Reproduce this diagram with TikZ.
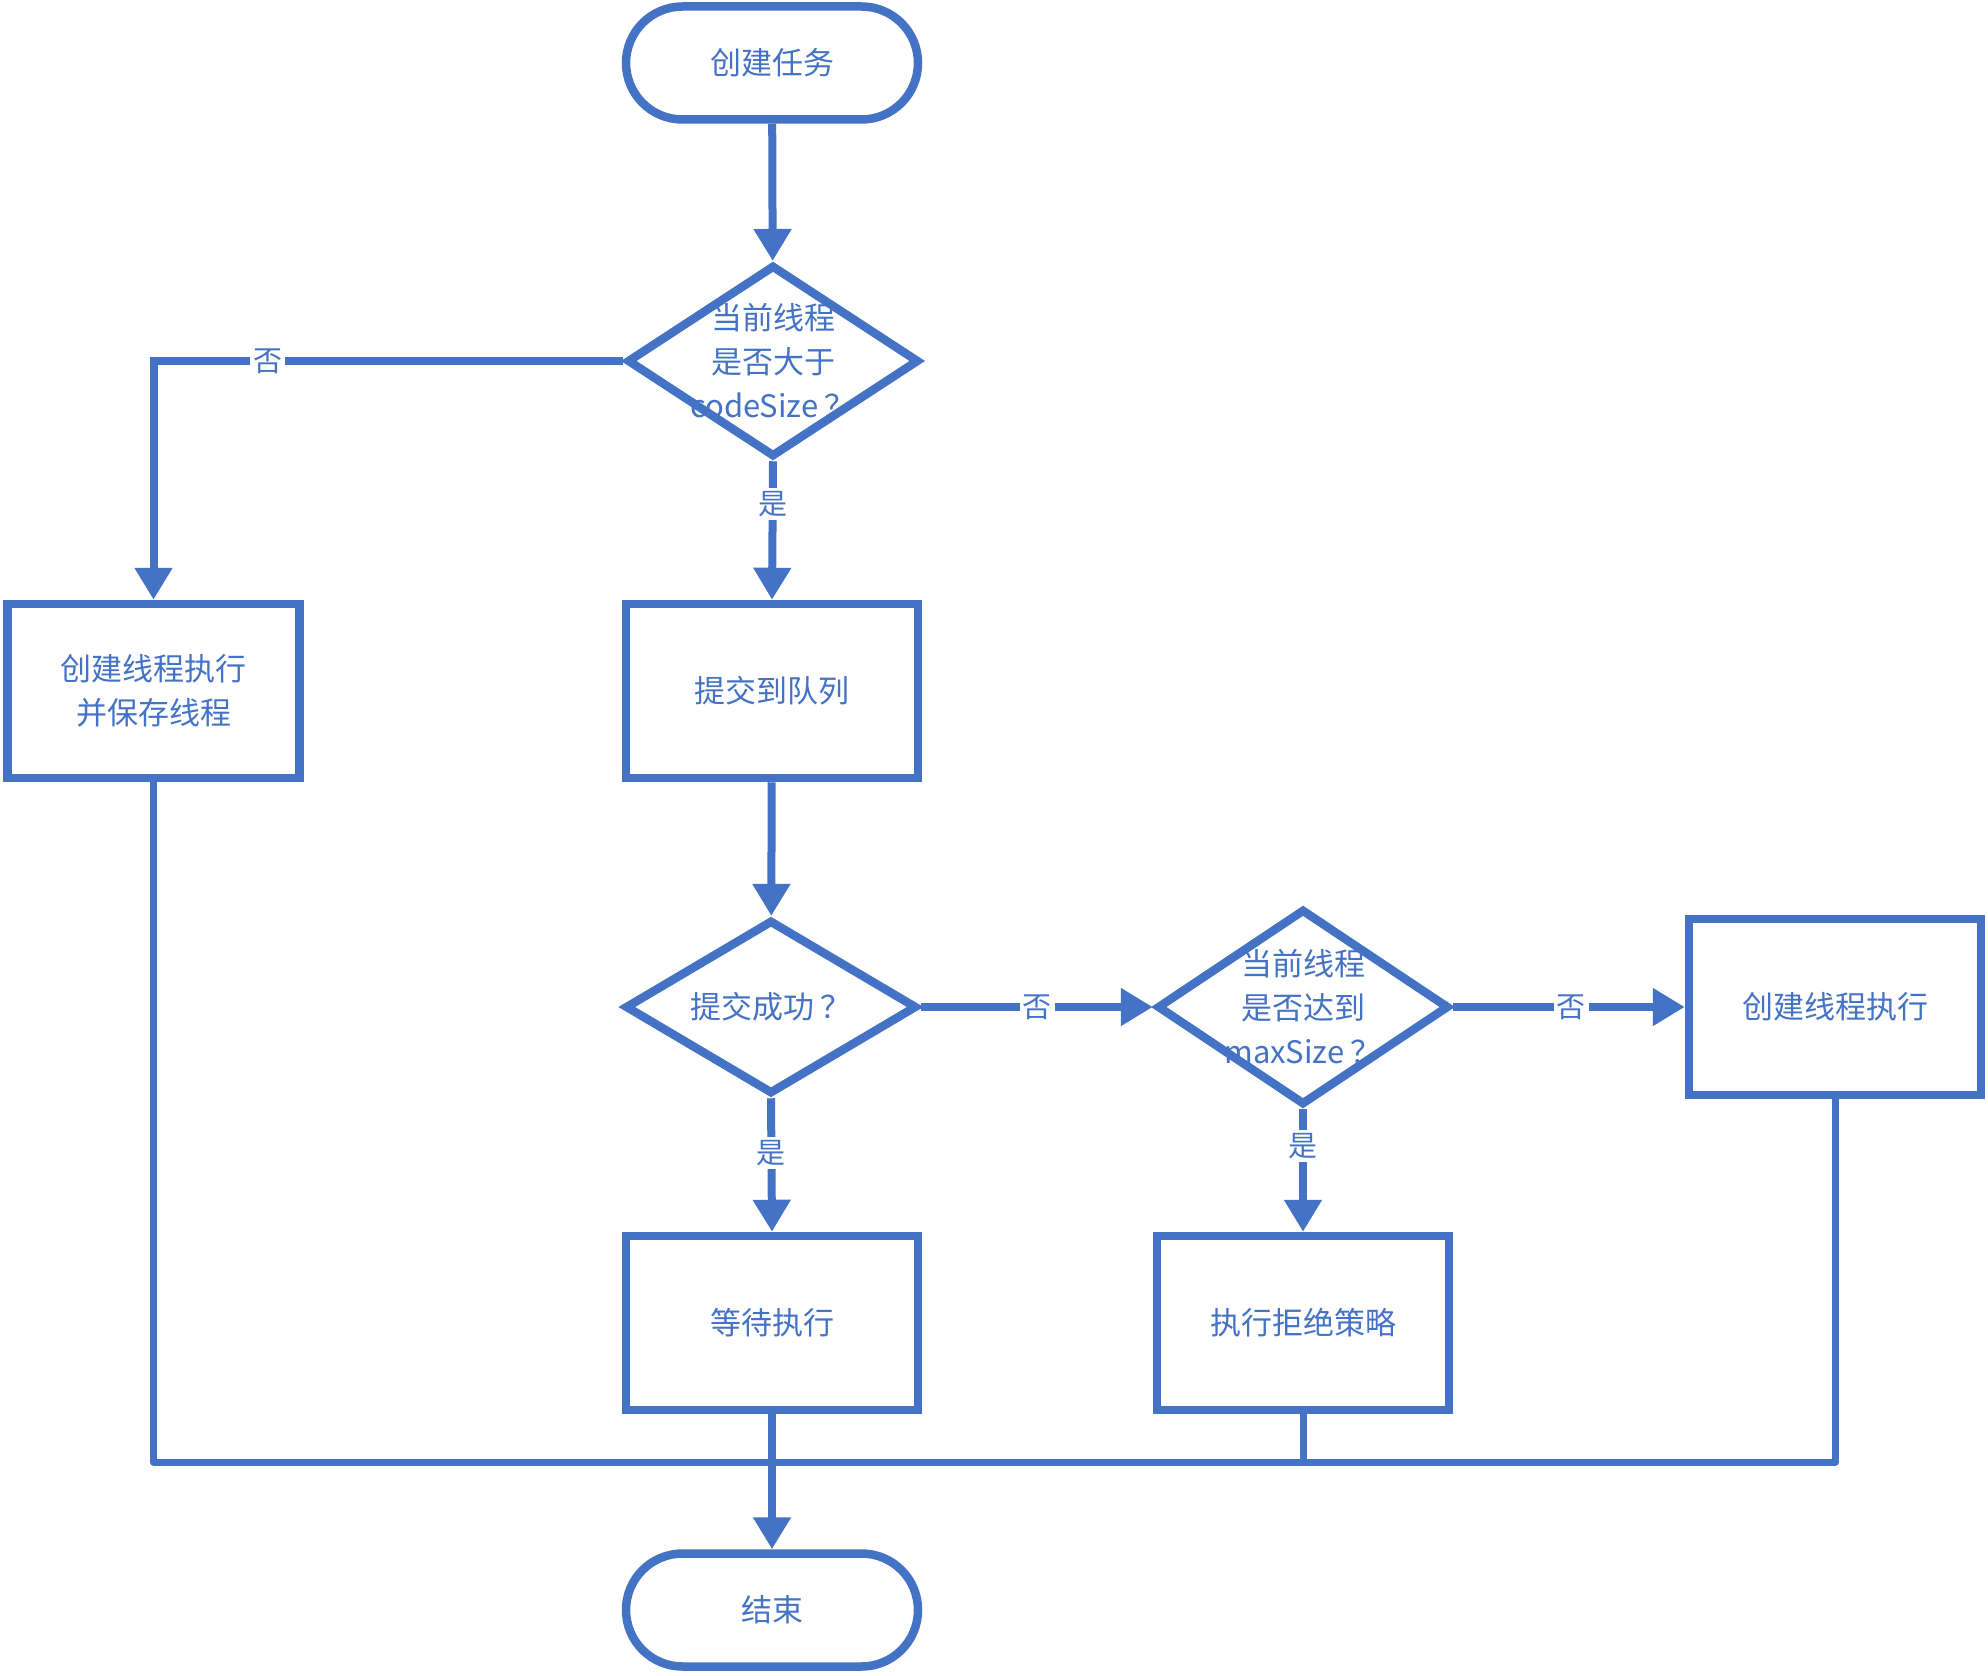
\documentclass[tikz,border=0pt]{standalone}
\usepackage{fontspec}
\setmainfont{Noto Sans CJK SC}
\usetikzlibrary{shapes.geometric,shapes.misc,arrows.meta}
\definecolor{fc}{HTML}{4472C4}
\newcommand{\qm}{\hspace{0.2em}？}
\begin{document}
\begin{tikzpicture}[x=1pt,y=-1pt,
  every node/.style={font=\fontsize{31}{44}\selectfont, text=fc},
  term/.style={rounded rectangle, draw=fc, line width=8.5pt, minimum width=292pt, minimum height=113pt, inner sep=0pt, fill=white},
  proc/.style={rectangle, draw=fc, line width=8.5pt, minimum width=292pt, minimum height=174pt, inner sep=0pt, align=center, fill=white},
  dec/.style={diamond, draw=fc, line width=8.5pt, inner sep=0pt, minimum width=292pt, minimum height=192pt, fill=white},
  dtext/.style={align=center, inner sep=0pt},
  conn/.style={draw=fc, line width=8pt},
  arr/.style={conn, -{Triangle[length=32pt 0 0, width=36pt 0 0]}},
  lab/.style={fill=white, inner sep=3pt, font=\fontsize{29}{32}\selectfont}
]
\useasboundingbox[fill=white] (0,0) rectangle (1988,1675);

\node[term] (start) at (772,63) {创建任务};
\node[dec] (d1) at (773,361) {};
\node[dtext] (d1t) at (d1.center) {当前线程\\是否大于\\codeSize\qm};
\node[proc] (bleft) at (153.5,691) {创建线程执行\\并保存线程};
\node[proc] (queue) at (772,691) {提交到队列};
\node[dec, minimum height=174pt] (d2) at (771,1007) {};
\node[dtext] (d2t) at (d2.center) {提交成功\qm};
\node[dec, minimum height=196pt] (d3) at (1303,1007) {};
\node[dtext] (d3t) at (d3.center) {当前线程\\是否达到\\maxSize\qm};
\node[proc, minimum height=176pt] (bright) at (1835,1007) {创建线程执行};
\node[proc] (wait) at (772,1323) {等待执行};
\node[proc] (reject) at (1303,1323) {执行拒绝策略};
\node[term] (end) at (772,1610) {结束};
\coordinate (m) at (772,1462);

\draw[arr] (start) -- (d1);
\draw[arr] (d1.west) -| node[lab, pos=0.378] {否} (bleft.north);
\draw[arr] (d1.south) -- node[lab, pos=0.31] {是} (queue.north);
\draw[arr] (queue) -- (d2);
\draw[arr] (d2.east) -- node[lab, pos=0.5] {否} (d3.west);
\draw[arr] (d2.south) -- node[lab, pos=0.41] {是} (wait.north);
\draw[arr] (d3.east) -- node[lab, pos=0.51] {否} (bright.west);
\draw[arr] (d3.south) -- node[lab, pos=0.3] {是} (reject.north);
\draw[conn, line width=7pt, line join=round] (bleft.south) -- (bleft.south |- m) -- (bright.south |- m) -- (bright.south);
\draw[conn, line width=7pt] (reject.south) -- (reject.south |- m);
\draw[arr] (wait.south) -- (end.north);
\end{tikzpicture}
\end{document}
